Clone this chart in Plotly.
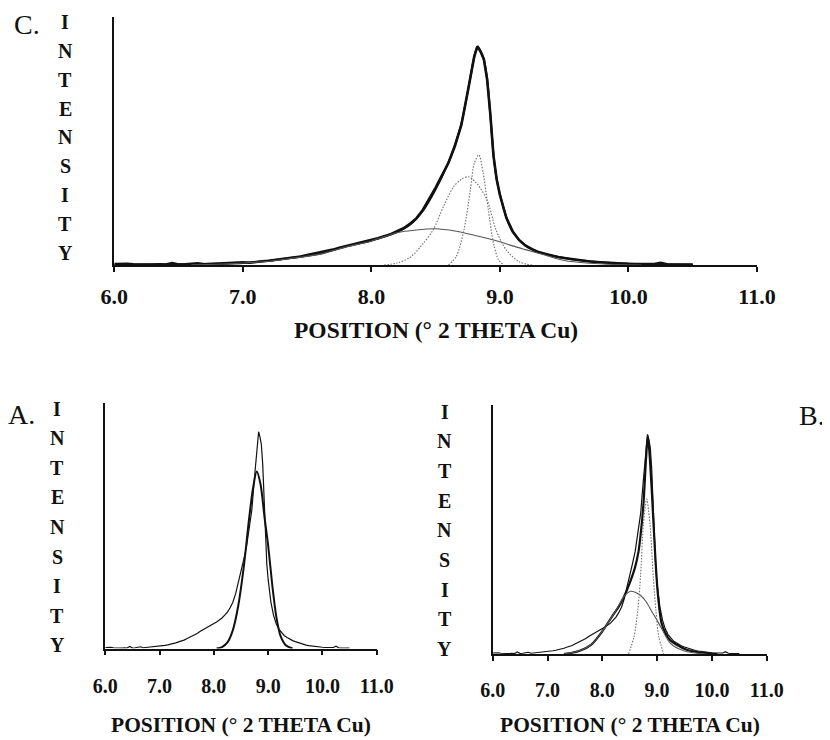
import plotly.graph_objects as go

# ---------------- data (normalised intensity, 0-1000) ----------------
tick_vals = [6, 7, 8, 9, 10, 11]
tick_text = ["6.0", "7.0", "8.0", "9.0", "10.0", "11.0"]

# observed diffraction profile (same scan in all three panels)
obs_x = [6.00, 6.05, 6.10, 6.15, 6.20, 6.25, 6.30, 6.35, 6.40, 6.45, 6.50, 6.55, 6.60, 6.65,
         6.70, 6.75, 6.80, 6.85, 6.90, 6.95, 7.00, 7.05, 7.10, 7.15, 7.20, 7.25, 7.30, 7.35,
         7.40, 7.45, 7.50, 7.55, 7.60, 7.65, 7.70, 7.75, 7.80, 7.85, 7.90, 7.95, 8.00, 8.05,
         8.10, 8.15, 8.20, 8.25, 8.30, 8.35, 8.40, 8.45, 8.50, 8.55, 8.60, 8.65, 8.70, 8.75,
         8.80, 8.825, 8.85, 8.875, 8.90, 8.925, 8.95, 8.975, 9.00, 9.05, 9.10, 9.15, 9.20,
         9.25, 9.30, 9.35, 9.40, 9.45, 9.50, 9.55, 9.60, 9.65, 9.70, 9.75, 9.80, 9.85, 9.90,
         9.95, 10.00, 10.05, 10.10, 10.15, 10.20, 10.25, 10.30, 10.35, 10.40, 10.45, 10.50]
obs_y = [4, 6, 5, 3, 2, 3, 2, 3, 2, 8, 2, 3, 4, 7,
         3, 4, 5, 6, 9, 8, 11, 9, 13, 15, 17, 20, 23, 27,
         30, 34, 40, 45, 50, 55, 62, 70, 76, 82, 88, 94, 100, 108,
         116, 124, 136, 148, 166, 188, 222, 265, 312, 362, 412, 480, 565, 700,
         840, 882, 860, 830, 750, 610, 440, 345, 282, 190, 135, 100, 78,
         64, 52, 45, 38, 32, 28, 24, 20, 17, 14, 12, 10, 8, 7,
         6, 5, 4, 5, 3, 4, 9, 3, 2, 3, 2, 2]

# panel C: three-component fit
c_fit_x = [6.0, 6.5, 7.0, 7.2, 7.4, 7.6, 7.8, 8.0, 8.1, 8.2, 8.3, 8.4, 8.5, 8.6, 8.65, 8.7,
           8.75, 8.8, 8.825, 8.85, 8.875, 8.9, 8.925, 8.95, 8.975, 9.0, 9.05, 9.1, 9.2, 9.3,
           9.4, 9.5, 9.6, 9.8, 10.0, 10.2, 10.5]
c_fit_y = [1, 3, 8, 17, 30, 45, 74, 98, 115, 133, 162, 218, 305, 415, 485, 570,
           700, 838, 880, 862, 828, 752, 608, 445, 345, 285, 192, 133, 78, 52,
           38, 28, 20, 10, 5, 3, 1]
c_broad_x = [6.6, 6.8, 7.0, 7.2, 7.4, 7.6, 7.8, 8.0, 8.2, 8.35, 8.5, 8.65, 8.8, 9.0, 9.1,
             9.2, 9.35, 9.5, 9.7, 9.9, 10.1]
c_broad_y = [1, 3, 8, 15, 28, 44, 72, 97, 130, 141, 146, 137, 120, 94, 77,
             62, 40, 18, 7, 2, 0]
c_mid_x = [8.1, 8.2, 8.3, 8.4, 8.48, 8.56, 8.64, 8.7, 8.755, 8.82, 8.9, 8.97, 9.05, 9.15, 9.25]
c_mid_y = [0, 8, 30, 85, 141, 235, 316, 345, 356, 329, 262, 141, 60, 13, 0]
c_narrow_x = [8.6, 8.66, 8.72, 8.77, 8.80, 8.836, 8.87, 8.91, 8.95, 8.99, 9.03]
c_narrow_y = [0, 34, 141, 302, 410, 444, 370, 222, 87, 20, 0]

# panel A: single-peak fit
a_fit_x = [8.05, 8.15, 8.25, 8.35, 8.45, 8.55, 8.65, 8.72, 8.79, 8.86, 8.93, 9.0, 9.08,
           9.15, 9.23, 9.33, 9.45]
a_fit_y = [0, 6, 25, 75, 175, 330, 530, 650, 720, 668, 540, 420, 250,
           130, 50, 12, 0]

# panel B: two-component fit
b_fit_x = [7.3, 7.45, 7.6, 7.8, 8.0, 8.2, 8.3, 8.4, 8.5, 8.6, 8.66, 8.7, 8.75, 8.8, 8.83,
           8.86, 8.9, 8.96, 9.01, 9.08, 9.16, 9.24, 9.35, 9.54, 9.7, 9.9, 10.1]
b_fit_y = [0, 5, 14, 38, 91, 158, 190, 232, 285, 350, 410, 480, 600, 790, 876,
           810, 667, 420, 250, 125, 80, 55, 38, 17, 9, 4, 0]
b_broad_x = [7.3, 7.6, 7.8, 8.0, 8.2, 8.3, 8.4, 8.52, 8.6, 8.7, 8.8, 8.9, 9.0, 9.1, 9.2,
             9.3, 9.5, 9.7, 9.9]
b_broad_y = [0, 14, 38, 91, 158, 195, 232, 252, 248, 235, 210, 172, 135, 95, 55,
             32, 12, 4, 0]
b_narrow_x = [8.48, 8.58, 8.65, 8.70, 8.75, 8.81, 8.87, 8.93, 8.98, 9.03, 9.12]
b_narrow_y = [0, 70, 180, 320, 520, 622, 520, 310, 170, 70, 0]

# ---------------- figure ----------------
PAGE_W, PAGE_H = 830, 740
OFF = 8                      # default page margin around the plot div
W, H = PAGE_W - OFF, PAGE_H - OFF
FONT = "Liberation Serif"
BLACK = "#111111"
GREY = "#555555"
DOT = "#6f6f6f"
DOTS = "1.5px,1.5px"

fig = go.Figure()


def px_x(p):
    return (p - OFF) / W


def px_y(p):
    return (PAGE_H - p) / H


def add(x, y, ax, color=BLACK, width=1.2, dash="solid", shape="linear"):
    fig.add_trace(go.Scatter(
        x=x, y=y, mode="lines", xaxis="x" + ax, yaxis="y" + ax,
        line=dict(color=color, width=width, dash=dash, shape=shape,
                  smoothing=0.8 if shape == "spline" else None),
        showlegend=False, hoverinfo="skip"))


# panel C (axis 1 -> '')
add(obs_x, obs_y, "", width=2.6)
add(c_fit_x, c_fit_y, "", width=2.0, shape="spline")
add(c_broad_x, c_broad_y, "", color=GREY, width=1.1, shape="spline")
add(c_mid_x, c_mid_y, "", color=DOT, width=1.1, dash=DOTS, shape="spline")
add(c_narrow_x, c_narrow_y, "", color=DOT, width=1.1, dash=DOTS, shape="spline")

# panel A (axis 2)
add(obs_x, obs_y, "2", width=1.2)
add(a_fit_x, a_fit_y, "2", width=2.0, shape="spline")

# panel B (axis 3)
add(obs_x, obs_y, "3", width=1.2)
add(b_fit_x, b_fit_y, "3", width=2.2, shape="spline")
add(b_broad_x, b_broad_y, "3", color=GREY, width=1.1, shape="spline")
add(b_narrow_x, b_narrow_y, "3", color=DOT, width=1.1, dash=DOTS, shape="spline")


def xaxis(domain, size, standoff):
    return dict(domain=domain, range=[6, 11], showgrid=False, zeroline=False,
                showline=True, linecolor=BLACK, linewidth=1.5, automargin=False,
                ticks="outside", ticklen=5, tickwidth=1.5, tickcolor=BLACK,
                tickvals=tick_vals, ticktext=tick_text, ticklabelstandoff=standoff,
                tickfont=dict(family=FONT, size=size, color=BLACK, weight="bold"),
                fixedrange=True)


def yaxis(domain, anchor):
    return dict(domain=domain, range=[0, 1000], showgrid=False, zeroline=False,
                showline=True, linecolor=BLACK, linewidth=1.5, showticklabels=False,
                ticks="", anchor=anchor, fixedrange=True, automargin=False)


fig.update_layout(
    template="none",
    width=W, height=H, margin=dict(l=0, r=0, t=0, b=0, pad=0, autoexpand=False),
    paper_bgcolor="white", plot_bgcolor="white",
    xaxis=dict(xaxis([px_x(114.3), px_x(757)], 22, 6), anchor="y"),
    yaxis=yaxis([px_y(265), px_y(17)], "x"),
    xaxis2=dict(xaxis([px_x(105.3), px_x(376.7)], 20, 14), anchor="y2"),
    yaxis2=yaxis([px_y(648.5), px_y(402.7)], "x2"),
    xaxis3=dict(xaxis([px_x(492.7), px_x(766.7)], 20, 12), anchor="y3"),
    yaxis3=yaxis([px_y(654), px_y(405)], "x3"),
)

ann = []
# axis titles
for cx, cy, sz in [(435.6, 330, 23.5), (241, 725, 21.5), (629.7, 725, 21.5)]:
    ann.append(dict(x=px_x(cx), y=px_y(cy), xref="paper", yref="paper",
                    text="POSITION (° 2 THETA Cu)", showarrow=False,
                    xanchor="center", yanchor="middle",
                    font=dict(family=FONT, size=sz, color=BLACK, weight="bold")))
# stacked INTENSITY labels
for cx, y0, step in [(65, 21.7, 28.95), (57, 408.5, 29.6), (445, 411.5, 29.7)]:
    for i, ch in enumerate("INTENSITY"):
        ann.append(dict(x=px_x(cx), y=px_y(y0 + i * step), xref="paper", yref="paper",
                        text=ch, showarrow=False, xanchor="center", yanchor="middle",
                        font=dict(family=FONT, size=20, color=BLACK, weight="bold")))
# panel letters
for txt, cx, cy, sz in [("C.", 27, 25, 28), ("A.", 21, 414, 28), ("B.", 812, 415, 28)]:
    ann.append(dict(x=px_x(cx), y=px_y(cy), xref="paper", yref="paper", text=txt,
                    showarrow=False, xanchor="center", yanchor="middle", borderpad=0,
                    font=dict(family=FONT, size=sz, color=BLACK)))
fig.update_layout(annotations=ann)

fig.write_html("out.html")
